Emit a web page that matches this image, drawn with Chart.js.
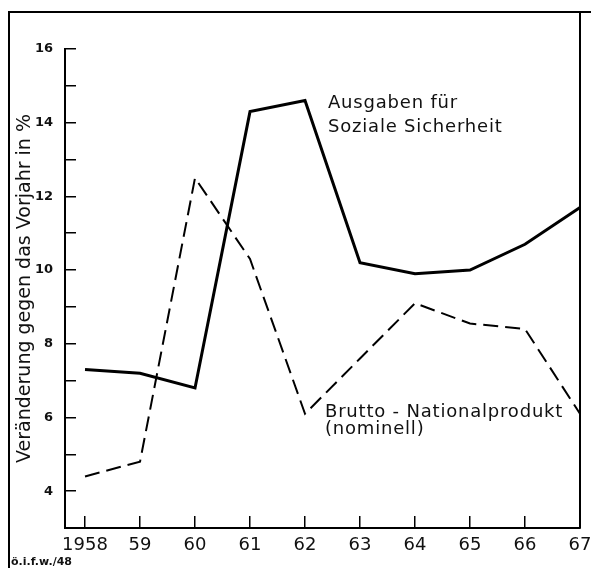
<!DOCTYPE html>
<html lang="de">
<head>
<meta charset="UTF-8">
<script src="https://cdn.jsdelivr.net/npm/chart.js"></script>
<title>Ausgaben für Soziale Sicherheit</title>
<style>
  body { margin: 0; background: #fff; }
  canvas { display: block; }
</style>
</head>
<body>
<canvas id="grafico" width="591" height="568"></canvas>
<script>
const jahre = [1958, 1959, 1960, 1961, 1962, 1963, 1964, 1965, 1966, 1967];
const jahrLabels = ['1958', '59', '60', '61', '62', '63', '64', '65', '66', '67'];
const ausgaben = [7.3, 7.2, 6.8, 14.3, 14.6, 10.2, 9.9, 10.0, 10.7, 11.7];
const bsp = [4.4, 4.8, 12.5, 10.3, 6.1, 7.6, 9.1, 8.55, 8.4, 6.1];
const yLabels = ['4', '6', '8', '10', '12', '14', '16'];

const schrift = "'DejaVu Sans', sans-serif";

// Rahmen, Beschriftungen an den Kurven, Fussnote
const rahmen = {
    id: 'rahmen',
    afterDraw(chart) {
        const c = chart.ctx;
        c.save();
        c.strokeStyle = '#000';
        c.lineWidth = 2;
        c.beginPath();
        c.moveTo(9, 568);
        c.lineTo(9, 12);
        c.lineTo(591, 12);
        c.moveTo(580, 12);
        c.lineTo(580, chart.chartArea.bottom);
        c.stroke();

        c.fillStyle = '#111';
        c.font = '18px ' + schrift;
        c.letterSpacing = '0.8px';
        c.textBaseline = 'alphabetic';
        c.fillText('Ausgaben für', 328, 108);
        c.fillText('Soziale Sicherheit', 328, 132);
        c.fillText('Brutto - Nationalprodukt', 325, 417);
        c.fillText('(nominell)', 325, 434);

        c.letterSpacing = '0px';
        c.font = 'bold 11px ' + schrift;
        c.fillText('ö.i.f.w./48', 11, 565);
        c.restore();
    }
};

const ohnePadding = (s) => {
    s.paddingLeft = 0; s.paddingRight = 0;
    s.paddingTop = 0; s.paddingBottom = 0;
};

new Chart(document.getElementById('grafico'), {
    type: 'line',
    data: {
        datasets: [{
            label: 'Ausgaben für Soziale Sicherheit',
            data: jahre.map((j, i) => ({ x: j, y: ausgaben[i] })),
            borderColor: '#000',
            borderWidth: 3,
            pointRadius: 0,
            tension: 0,
            clip: false
        }, {
            label: 'Brutto - Nationalprodukt (nominell)',
            data: jahre.map((j, i) => ({ x: j, y: bsp[i] })),
            borderColor: '#000',
            borderWidth: 2,
            borderDash: [15, 7],
            pointRadius: 0,
            tension: 0,
            clip: false
        }]
    },
    options: {
        responsive: false,
        animation: false,
        layout: { padding: { left: 0, top: 49, right: 11, bottom: 0 } },
        plugins: {
            legend: { display: false },
            tooltip: { enabled: false }
        },
        scales: {
            x: {
                type: 'linear',
                min: 1957.636,
                max: 1967,
                afterBuildTicks: (s) => { s.ticks = jahre.map(v => ({ value: v })); },
                afterFit: (s) => { s.height = 40; ohnePadding(s); },
                ticks: {
                    callback: (v) => jahrLabels[jahre.indexOf(v)],
                    font: { family: schrift, size: 18 },
                    color: '#111',
                    padding: 19,
                    maxRotation: 0,
                    autoSkip: false
                },
                grid: { drawOnChartArea: false, tickLength: -12, color: '#000', lineWidth: 1.5 },
                border: { color: '#000', width: 2 }
            },
            y: {
                min: 3,
                max: 16,
                afterFit: (s) => { s.width = 65; ohnePadding(s); },
                ticks: {
                    stepSize: 1,
                    callback: (v) => yLabels.includes(String(v)) ? String(v) : '',
                    font: { family: schrift, size: 13, weight: 'bold' },
                    color: '#111',
                    padding: 23,
                    autoSkip: false
                },
                grid: { drawOnChartArea: false, tickLength: -11, color: '#000', lineWidth: 1.5 },
                border: { color: '#000', width: 2 },
                title: {
                    display: true,
                    text: 'Veränderung gegen das Vorjahr in %',
                    font: { family: schrift, size: 19 },
                    color: '#111',
                    padding: { top: 14, bottom: 0 }
                }
            }
        }
    },
    plugins: [rahmen]
});
</script>
</body>
</html>
